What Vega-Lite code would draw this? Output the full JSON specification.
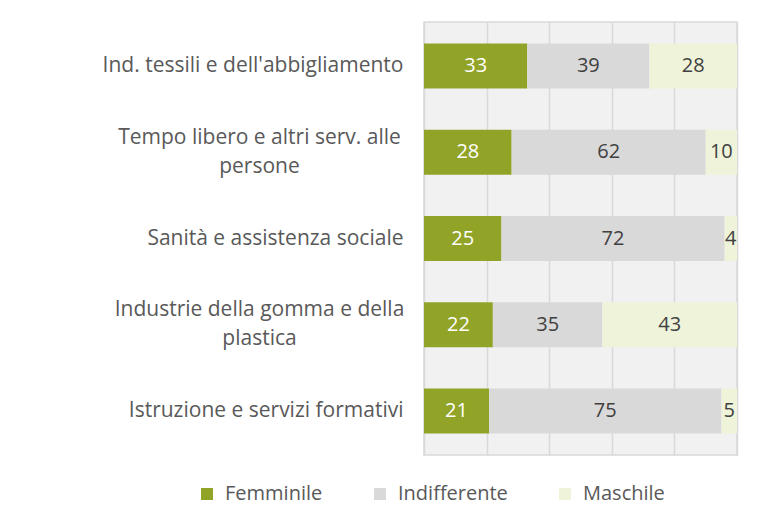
{
  "$schema": "https://vega.github.io/schema/vega-lite/v6.json",
  "width": 313,
  "height": 433,
  "autosize": "none",
  "padding": {"left": 424, "top": 22, "right": 30, "bottom": 51},
  "background": "white",
  "config": {
    "font": "Open Sans",
    "view": {"fill": "#f1f1f1", "stroke": "#d9d9d9", "strokeWidth": 1.5}
  },
  "data": {
    "values": [
      {"cat": "Ind. tessili e dell'abbigliamento", "genere": "Femminile", "ord": 1, "val": 33},
      {"cat": "Ind. tessili e dell'abbigliamento", "genere": "Indifferente", "ord": 2, "val": 39},
      {"cat": "Ind. tessili e dell'abbigliamento", "genere": "Maschile", "ord": 3, "val": 28},
      {"cat": "Tempo libero e altri serv. alle|persone", "genere": "Femminile", "ord": 1, "val": 28},
      {"cat": "Tempo libero e altri serv. alle|persone", "genere": "Indifferente", "ord": 2, "val": 62},
      {"cat": "Tempo libero e altri serv. alle|persone", "genere": "Maschile", "ord": 3, "val": 10},
      {"cat": "Sanità e assistenza sociale", "genere": "Femminile", "ord": 1, "val": 25},
      {"cat": "Sanità e assistenza sociale", "genere": "Indifferente", "ord": 2, "val": 72},
      {"cat": "Sanità e assistenza sociale", "genere": "Maschile", "ord": 3, "val": 4},
      {"cat": "Industrie della gomma e della|plastica", "genere": "Femminile", "ord": 1, "val": 22},
      {"cat": "Industrie della gomma e della|plastica", "genere": "Indifferente", "ord": 2, "val": 35},
      {"cat": "Industrie della gomma e della|plastica", "genere": "Maschile", "ord": 3, "val": 43},
      {"cat": "Istruzione e servizi formativi", "genere": "Femminile", "ord": 1, "val": 21},
      {"cat": "Istruzione e servizi formativi", "genere": "Indifferente", "ord": 2, "val": 75},
      {"cat": "Istruzione e servizi formativi", "genere": "Maschile", "ord": 3, "val": 5}
    ]
  },
  "transform": [
    {"stack": "val", "groupby": ["cat"], "sort": [{"field": "ord", "order": "ascending"}], "offset": "normalize", "as": ["v0", "v1"]},
    {"calculate": "(datum.v0 + datum.v1) / 2", "as": "vm"}
  ],
  "encoding": {
    "y": {
      "field": "cat",
      "type": "nominal",
      "sort": null,
      "title": null,
      "scale": {"paddingInner": 0.48, "paddingOuter": 0.25},
      "axis": {
        "domain": false,
        "ticks": false,
        "tickSize": 0,
        "labelExpr": "split(datum.value, '|')",
        "labelFontSize": 21,
        "labelColor": "#595959",
        "labelLineHeight": 29,
        "labelLimit": 400,
        "labelAlign": {"condition": {"test": "indexof(datum.value, '|') >= 0", "value": "center"}, "value": "right"},
        "labelPadding": {"condition": {"test": "indexof(datum.value, '|') >= 0", "value": 165}, "value": 21},
        "labelOffset": {"condition": {"test": "indexof(datum.value, '|') >= 0", "value": -14.5}, "value": 0}
      }
    }
  },
  "layer": [
    {
      "mark": {"type": "bar"},
      "encoding": {
        "x": {
          "field": "v0",
          "type": "quantitative",
          "scale": {"domain": [0, 1], "nice": false},
          "axis": {
            "title": null,
            "labels": false,
            "ticks": false,
            "domain": false,
            "grid": true,
            "gridColor": "#d9d9d9",
            "gridWidth": 1.5,
            "values": [0, 0.2, 0.4, 0.6, 0.8, 1]
          }
        },
        "x2": {"field": "v1"},
        "color": {
          "field": "genere",
          "type": "nominal",
          "sort": ["Femminile", "Indifferente", "Maschile"],
          "scale": {"domain": ["Femminile", "Indifferente", "Maschile"], "range": ["#92a428", "#d9d9d9", "#eef3da"]},
          "legend": {
            "title": null,
            "orient": "none",
            "direction": "horizontal",
            "legendX": -227,
            "legendY": 462,
            "symbolType": "square",
            "symbolSize": 144,
            "symbolStrokeWidth": 0,
            "symbolOpacity": 1,
            "labelFontSize": 20,
            "labelColor": "#595959",
            "labelOffset": 8,
            "gridAlign": "each",
            "columnPadding": 47
          }
        }
      }
    },
    {
      "mark": {"type": "text", "fontSize": 20},
      "encoding": {
        "x": {"field": "vm", "type": "quantitative"},
        "text": {"field": "val", "type": "quantitative"},
        "color": {
          "condition": {"test": "datum.genere === 'Femminile'", "value": "white"},
          "value": "#404040"
        }
      }
    }
  ]
}
